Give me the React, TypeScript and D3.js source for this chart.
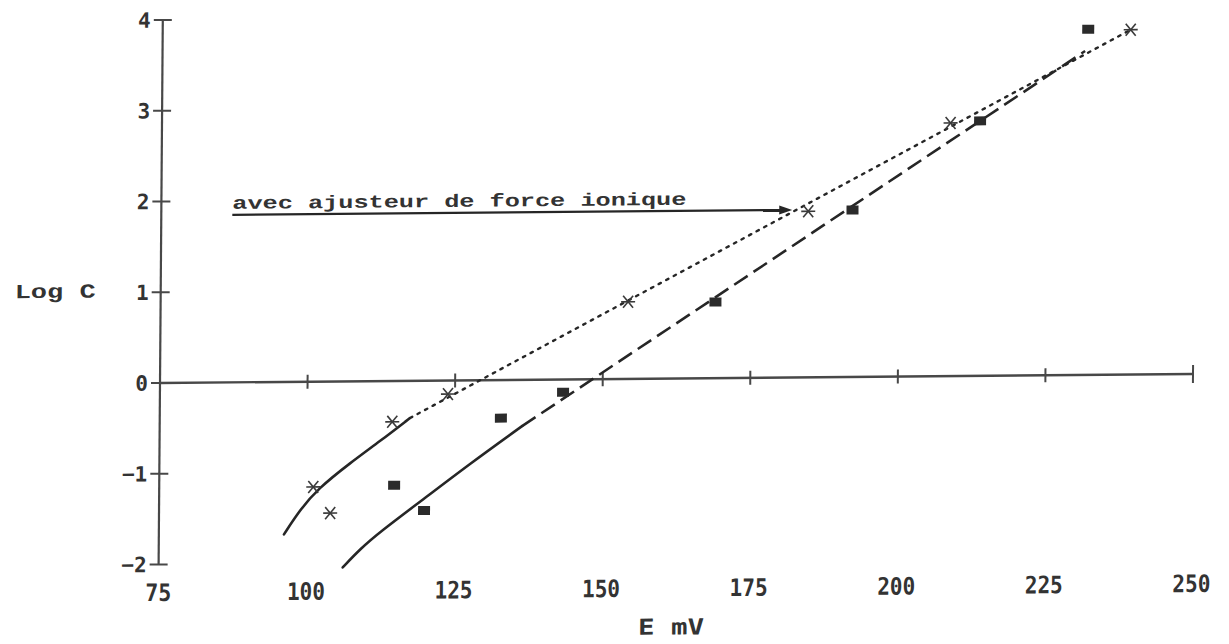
import React from 'react';
import * as d3 from 'd3';

// axis ticks
const xTicks = [75, 100, 125, 150, 175, 200, 225, 250];
const yTicks = [-2, -1, 0, 1, 2, 3, 4];

// series: avec ajusteur de force ionique (asterisks)
const starE = [101.1, 104.0, 114.4, 123.8, 154.2, 184.6, 208.6, 239.0];
const starLogC = [-1.16, -1.45, -0.45, -0.15, 0.85, 1.83, 2.79, 3.8];
// series: sans ajusteur (filled squares)
const squareE = [114.8, 119.9, 132.8, 143.3, 169.0, 192.1, 213.6, 231.8];
const squareLogC = [-1.15, -1.43, -0.42, -0.14, 0.84, 1.84, 2.81, 3.81];

// hand-drawn curved (non-linear) parts
const starCurveE = [96.2, 98.9, 101.9, 107.3, 112.4, 117.4];
const starCurveLogC = [-1.68, -1.41, -1.18, -0.9, -0.66, -0.41];
const squareCurveE = [106.2, 109.1, 112.5, 119.7, 127.6, 136.4];
const squareCurveLogC = [-2.05, -1.85, -1.66, -1.31, -0.92, -0.51];
// linear parts
const starFitE = [117.4, 239.0];
const starFitLogC = [-0.41, 3.8];
const squareFitE = [136.4, 231.3];
const squareFitLogC = [-0.51, 3.57];

const annotation = 'avec ajusteur de force ionique';

const W = 1229;
const H = 644;

export default function App() {
  const x = d3.scaleLinear().domain([75, 250]).range([160, 1193]);
  const y = d3.scaleLinear().domain([-2, 4]).range([564.5, 20]);

  const pts = (es: number[], cs: number[]) => es.map((e, i) => [e, cs[i]] as [number, number]);
  const curve = d3
    .line<[number, number]>()
    .x((d) => x(d[0]))
    .y((d) => y(d[1]))
    .curve(d3.curveBasis);
  const straight = d3
    .line<[number, number]>()
    .x((d) => x(d[0]))
    .y((d) => y(d[1]));

  const ink = '#262626';
  const axisInk = '#484848';
  const ox = x(75);
  const oy = y(0);
  const kx = -0.0077;
  const ky = -0.0087;
  const skew = `matrix(1, ${ky}, ${kx}, 1, ${-kx * oy}, ${-ky * ox})`;

  const tipX = x(starE[5]) - 16;
  const arrowY = y(starLogC[5]) - 1.5;
  const startX = 231;

  const star = (cx: number, cy: number, k: number) => (
    <g key={k} stroke="#3a3a3a" strokeWidth={1.6}>
      <line x1={cx - 7} y1={cy} x2={cx + 7} y2={cy} />
      <line x1={cx - 5} y1={cy - 6} x2={cx + 5} y2={cy + 6} />
      <line x1={cx - 5} y1={cy + 6} x2={cx + 5} y2={cy - 6} />
    </g>
  );

  return (
    <svg
      width={W}
      height={H}
      style={{ position: 'absolute', left: 0, top: 0, background: '#fff' }}
    >
      <g transform={skew}>
        {/* y axis */}
        <line x1={ox} y1={y(4)} x2={ox} y2={y(-2)} stroke={axisInk} strokeWidth={2.2} />
        {yTicks.map((t) => (
          <g key={'yt' + t}>
            <line x1={ox - 9} x2={ox + 9} y1={y(t)} y2={y(t)} stroke={axisInk} strokeWidth={2} />
            <text
              x={148}
              y={y(t) + 7.5}
              textAnchor="end"
              fontFamily="DejaVu Sans Mono"
              fontWeight="bold"
              fontSize={21}
              fill="#333"
            >
              {t < 0 ? '\u2212' + Math.abs(t) : String(t)}
            </text>
          </g>
        ))}
        {/* x axis at log C = 0 */}
        <line x1={ox} y1={oy} x2={x(250)} y2={oy} stroke={axisInk} strokeWidth={2.4} />
        {xTicks.slice(1).map((t) => (
          <line
            key={'xt' + t}
            x1={x(t)}
            x2={x(t)}
            y1={oy - (t === 250 ? 9 : 7)}
            y2={oy + (t === 250 ? 9 : 7)}
            stroke={axisInk}
            strokeWidth={2}
          />
        ))}
        {xTicks.map((t) => (
          <text
            key={'xl' + t}
            x={x(t)}
            y={601}
            textAnchor="middle"
            fontFamily="DejaVu Sans Mono"
            fontWeight="bold"
            fontSize={24}
            textLength={t < 100 ? 26 : 38}
            lengthAdjust="spacingAndGlyphs"
            fill="#333"
          >
            {String(t)}
          </text>
        ))}
        <text
          x={673}
          y={639}
          textAnchor="middle"
          fontFamily="DejaVu Sans Mono"
          fontWeight="bold"
          fontSize={22}
          textLength={66}
          lengthAdjust="spacingAndGlyphs"
          fill="#333"
        >
          E mV
        </text>
        <text
          x={14}
          y={297}
          fontFamily="Liberation Mono"
          fontWeight="bold"
          fontSize={20}
          textLength={81}
          lengthAdjust="spacingAndGlyphs"
          fill="#333"
        >
          Log C
        </text>

        {/* fitted lines */}
        <path d={curve(pts(starCurveE, starCurveLogC)) || ''} fill="none" stroke={ink} strokeWidth={2.6} strokeLinecap="round" />
        <path d={curve(pts(squareCurveE, squareCurveLogC)) || ''} fill="none" stroke={ink} strokeWidth={2.6} strokeLinecap="round" />
        <path
          d={straight(pts(starFitE, starFitLogC)) || ''}
          fill="none"
          stroke={ink}
          strokeWidth={2.4}
          strokeDasharray="2.5 6"
          strokeLinecap="round"
        />
        <path
          d={straight(pts(squareFitE, squareFitLogC)) || ''}
          fill="none"
          stroke={ink}
          strokeWidth={2.6}
          strokeDasharray="16 7"
        />

        {/* markers */}
        {starE.map((e, i) => star(x(e), y(starLogC[i]), i))}
        {squareE.map((e, i) => (
          <rect
            key={'sq' + i}
            x={x(e) - 6}
            y={y(squareLogC[i]) - 4.5}
            width={12}
            height={9}
            fill="#2b2b2b"
          />
        ))}

        {/* annotation */}
        <text
          x={startX}
          y={arrowY - 6}
          fontFamily="Liberation Mono"
          fontWeight="bold"
          fontSize={18}
          textLength={454}
          lengthAdjust="spacingAndGlyphs"
          fill="#333"
        >
          {annotation}
        </text>
        <line x1={startX} y1={arrowY} x2={tipX - 10} y2={arrowY} stroke={ink} strokeWidth={2.2} />
        <path
          d={`M${tipX},${arrowY} L${tipX - 13},${arrowY - 4.5} L${tipX - 13},${arrowY + 4.5} Z`}
          fill={ink}
        />
      </g>
    </svg>
  );
}
